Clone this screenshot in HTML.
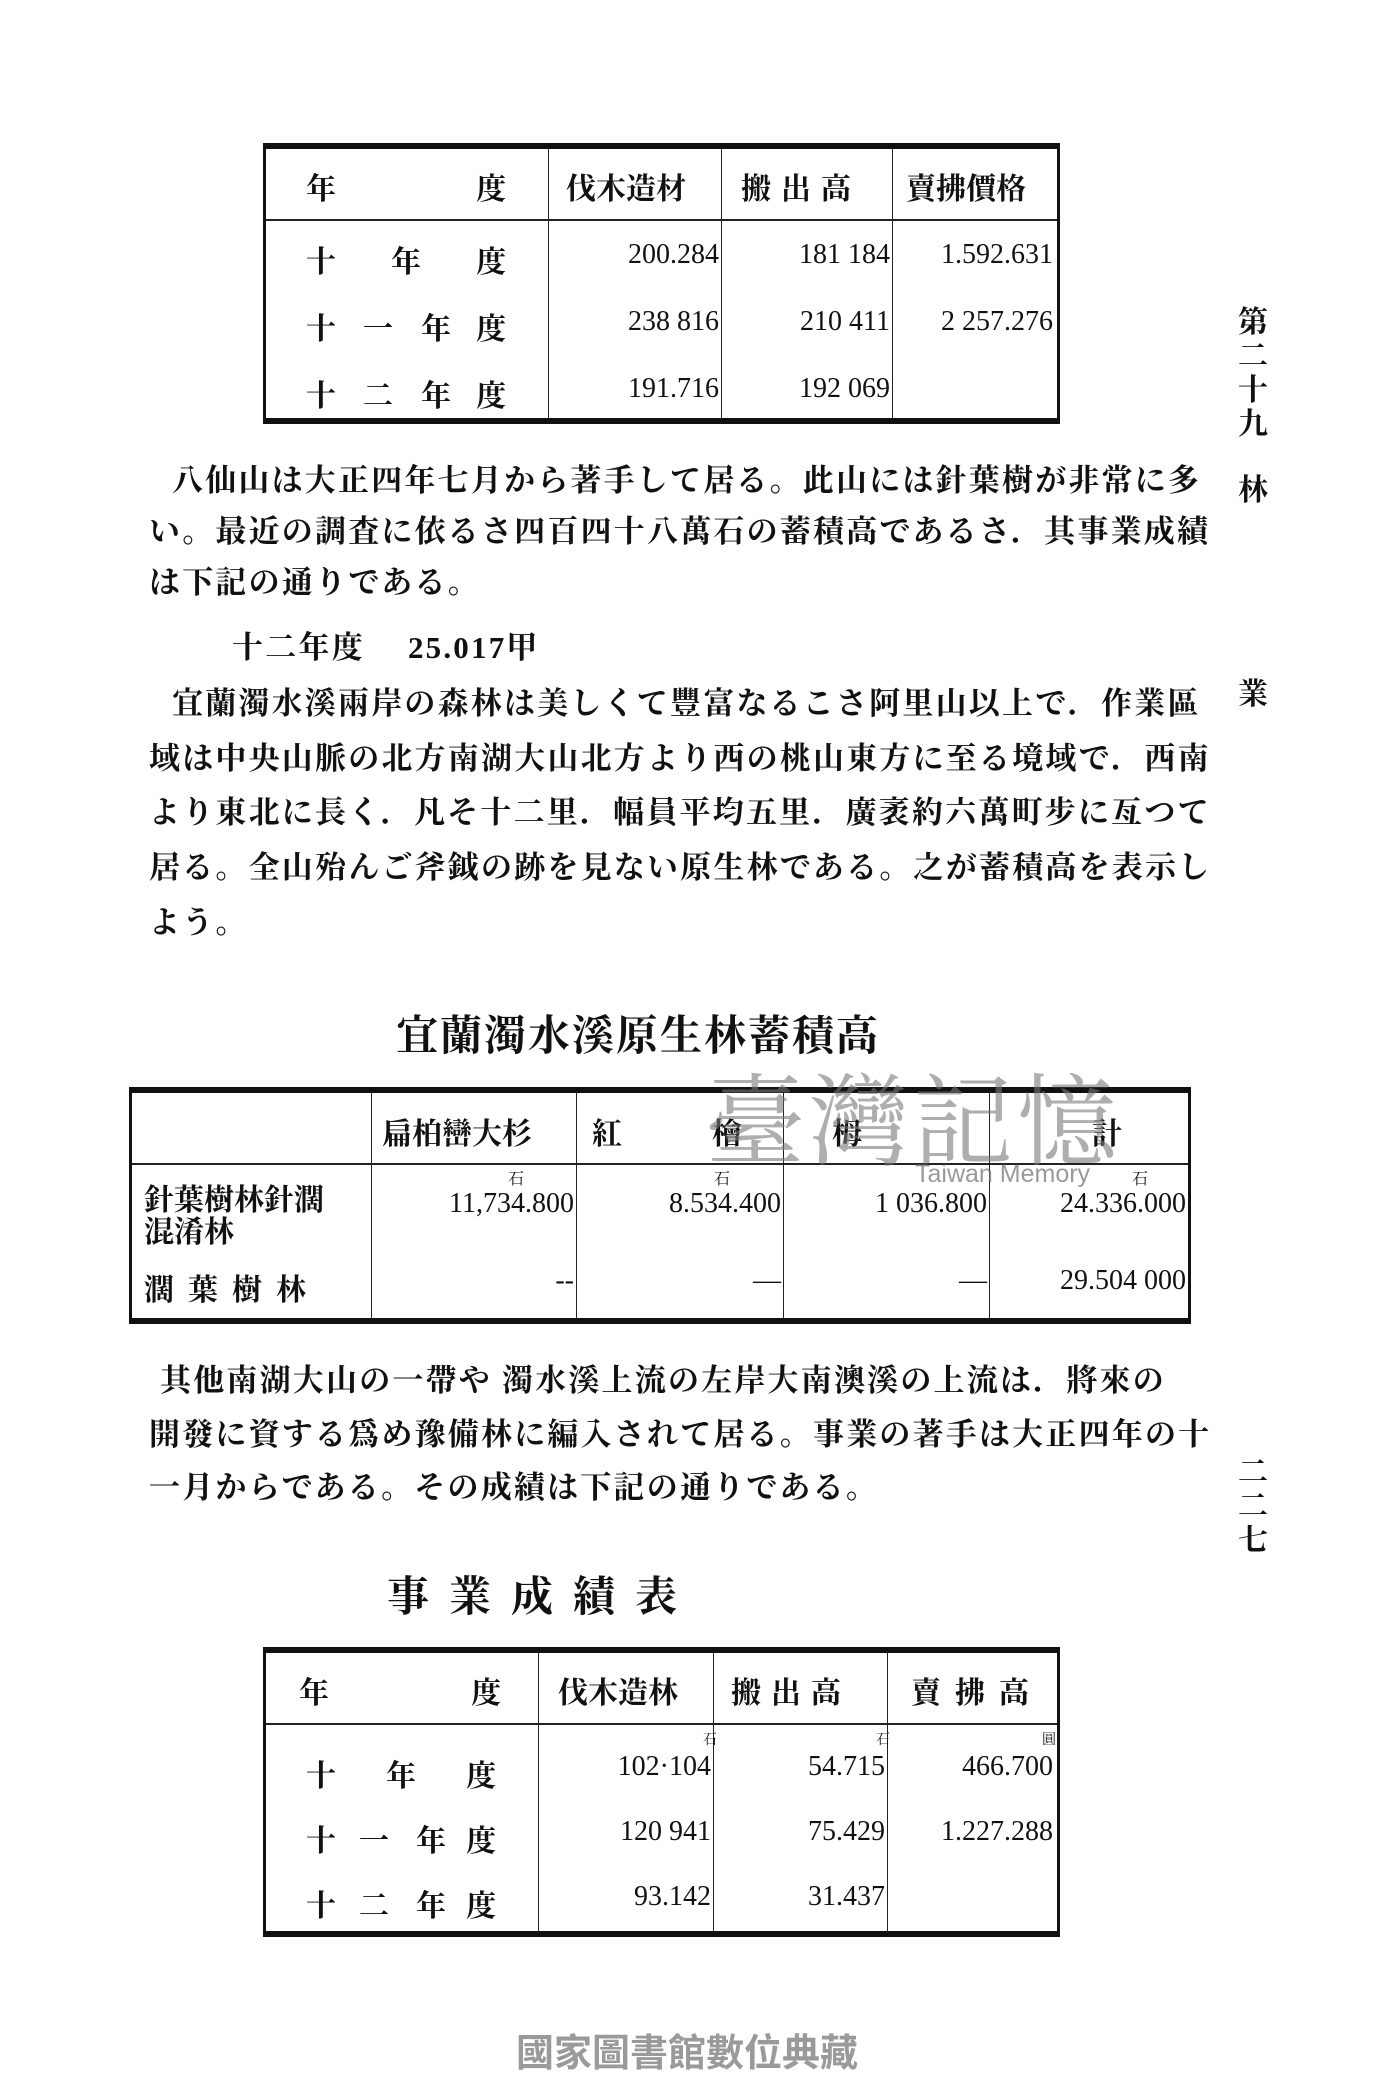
<!DOCTYPE html>
<html><head><meta charset="utf-8"><style>
body{margin:0;width:1400px;height:2100px;background:#fff;position:relative;overflow:hidden;font-family:"Liberation Serif","Noto Serif CJK JP","Noto Sans CJK JP",serif;color:#111}
.a{position:absolute;white-space:nowrap}
.p{font-size:31px;letter-spacing:2.2px;font-weight:bold}
.t{position:absolute;border:3px solid #111;border-top:6px solid #111;border-bottom:6px solid #111;box-sizing:border-box}
.v{position:absolute;top:0;bottom:0;border-left:1.5px solid #222}
.h{position:absolute;left:0;right:0;border-top:2px solid #222}
.c{position:absolute;font-size:30px;font-weight:bold}
.n{position:absolute;font-size:28px;font-family:"Liberation Serif",serif;text-align:right;white-space:nowrap}
.vt{position:absolute;font-size:30px;font-weight:bold;width:34px;text-align:center;line-height:34px}
</style></head><body>

<!-- Table 1 -->
<div class="t" style="left:263px;top:143px;width:797px;height:281px">
<div class="h" style="top:70px"></div>
<div class="v" style="left:282px"></div><div class="v" style="left:455px"></div><div class="v" style="left:626px"></div>
<div class="c" style="left:40px;top:15px">年</div><div class="c" style="left:210px;top:15px">度</div>
<div class="c" style="left:300px;top:15px">伐木造材</div>
<div class="c" style="left:475px;top:15px;letter-spacing:10px">搬出高</div>
<div class="c" style="left:640px;top:15px">賣拂價格</div>
<div class="c" style="left:40px;top:88px">十</div><div class="c" style="left:125px;top:88px">年</div><div class="c" style="left:210px;top:88px">度</div>
<div class="c" style="left:40px;top:155px">十</div><div class="c" style="left:97px;top:155px">一</div><div class="c" style="left:155px;top:155px">年</div><div class="c" style="left:210px;top:155px">度</div>
<div class="c" style="left:40px;top:222px">十</div><div class="c" style="left:97px;top:222px">二</div><div class="c" style="left:155px;top:222px">年</div><div class="c" style="left:210px;top:222px">度</div>
<div class="n" style="right:338px;top:90px">200.284</div><div class="n" style="right:167px;top:90px">181 184</div><div class="n" style="right:4px;top:90px">1.592.631</div>
<div class="n" style="right:338px;top:157px">238 816</div><div class="n" style="right:167px;top:157px">210 411</div><div class="n" style="right:4px;top:157px">2 257.276</div>
<div class="n" style="right:338px;top:224px">191.716</div><div class="n" style="right:167px;top:224px">192 069</div>
</div>

<!-- right margin -->
<div class="vt" style="left:1236px;top:306px">第<br>二<br>十<br>九</div>
<div class="vt" style="left:1236px;top:474px">林</div>
<div class="vt" style="left:1236px;top:678px">業</div>
<div class="vt" style="left:1236px;top:1456px">二<br>二<br>七</div>

<div class="a p" style="left:172px;top:455px">八仙山は大正四年七月から著手して居る。此山には針葉樹が非常に多</div>
<div class="a p" style="left:149px;top:506px">い。最近の調査に依るさ四百四十八萬石の蓄積高であるさ．其事業成績</div>
<div class="a p" style="left:149px;top:557px">は下記の通りである。</div>
<div class="a p" style="left:232px;top:622px">十二年度　 25.017甲</div>
<div class="a p" style="left:172px;top:678px">宜蘭濁水溪兩岸の森林は美しくて豐富なるこさ阿里山以上で．作業區</div>
<div class="a p" style="left:149px;top:733px">域は中央山脈の北方南湖大山北方より西の桃山東方に至る境域で．西南</div>
<div class="a p" style="left:149px;top:787px">より東北に長く．凡そ十二里．幅員平均五里．廣袤約六萬町步に亙つて</div>
<div class="a p" style="left:149px;top:842px">居る。全山殆んご斧鉞の跡を見ない原生林である。之が蓄積高を表示し</div>
<div class="a p" style="left:149px;top:897px">よう。</div>

<div class="a" style="left:396px;top:1003px;font-size:42px;font-weight:bold;letter-spacing:2px">宜蘭濁水溪原生林蓄積高</div>

<!-- Table 2 -->
<div class="t" style="left:129px;top:1087px;width:1062px;height:237px">
<div class="h" style="top:70px"></div>
<div class="v" style="left:239px"></div><div class="v" style="left:444px"></div><div class="v" style="left:651px"></div><div class="v" style="left:857px"></div>
<div class="c" style="left:250px;top:16px">扁柏巒大杉</div>
<div class="c" style="left:460px;top:16px">紅</div><div class="c" style="left:580px;top:16px">檜</div>
<div class="c" style="left:700px;top:16px">栂</div><div class="c" style="left:960px;top:16px">計</div>
<div class="c" style="left:12px;top:92px;line-height:32px">針葉樹林針濶<br>混淆林</div>
<div class="c" style="left:12px;top:172px;letter-spacing:14px">濶葉樹林</div>
<div class="a" style="left:376px;top:73px;font-size:16px">石</div><div class="a" style="left:582px;top:73px;font-size:16px">石</div><div class="a" style="left:1000px;top:73px;font-size:16px">石</div>
<div class="n" style="right:614px;top:95px">11,734.800</div><div class="n" style="right:407px;top:95px">8.534.400</div>
<div class="n" style="right:201px;top:95px">1 036.800</div><div class="n" style="right:2px;top:95px">24.336.000</div>
<div class="n" style="right:614px;top:172px">--</div><div class="n" style="right:407px;top:172px">—</div><div class="n" style="right:201px;top:172px">—</div>
<div class="n" style="right:2px;top:172px">29.504 000</div>
</div>

<!-- watermark -->
<div class="a" style="left:705px;top:1042px;font-size:100px;color:rgba(120,120,120,0.6);font-family:'Noto Serif CJK SC',serif;letter-spacing:4px">臺灣記憶</div>
<div class="a" style="left:915px;top:1160px;font-size:25px;color:rgba(110,110,110,0.7);font-family:'Liberation Sans',sans-serif">Taiwan Memory</div>

<div class="a p" style="left:160px;top:1355px">其他南湖大山の一帶や 濁水溪上流の左岸大南澳溪の上流は．將來の</div>
<div class="a p" style="left:149px;top:1409px">開發に資する爲め豫備林に編入されて居る。事業の著手は大正四年の十</div>
<div class="a p" style="left:149px;top:1462px">一月からである。その成績は下記の通りである。</div>

<div class="a" style="left:387px;top:1564px;font-size:42px;font-weight:bold;letter-spacing:20px">事業成績表</div>

<!-- Table 3 -->
<div class="t" style="left:263px;top:1647px;width:797px;height:290px">
<div class="h" style="top:70px"></div>
<div class="v" style="left:272px"></div><div class="v" style="left:447px"></div><div class="v" style="left:621px"></div>
<div class="c" style="left:33px;top:15px">年</div><div class="c" style="left:205px;top:15px">度</div>
<div class="c" style="left:292px;top:15px">伐木造林</div>
<div class="c" style="left:465px;top:15px;letter-spacing:10px">搬出高</div>
<div class="c" style="left:645px;top:15px;letter-spacing:14px">賣拂高</div>
<div class="c" style="left:40px;top:98px">十</div><div class="c" style="left:120px;top:98px">年</div><div class="c" style="left:200px;top:98px">度</div>
<div class="c" style="left:40px;top:163px">十</div><div class="c" style="left:93px;top:163px">一</div><div class="c" style="left:150px;top:163px">年</div><div class="c" style="left:200px;top:163px">度</div>
<div class="c" style="left:40px;top:228px">十</div><div class="c" style="left:93px;top:228px">二</div><div class="c" style="left:150px;top:228px">年</div><div class="c" style="left:200px;top:228px">度</div>
<div class="a" style="left:437px;top:76px;font-size:14px">石</div><div class="a" style="left:610px;top:76px;font-size:14px">石</div><div class="a" style="left:776px;top:76px;font-size:14px">圓</div>
<div class="n" style="right:346px;top:98px">102·104</div><div class="n" style="right:172px;top:98px">54.715</div><div class="n" style="right:4px;top:98px">466.700</div>
<div class="n" style="right:346px;top:163px">120 941</div><div class="n" style="right:172px;top:163px">75.429</div><div class="n" style="right:4px;top:163px">1.227.288</div>
<div class="n" style="right:346px;top:228px">93.142</div><div class="n" style="right:172px;top:228px">31.437</div>
</div>

<div class="a" style="left:516px;top:2022px;font-size:38px;color:#9a9a9a;font-family:'Noto Sans CJK TC',sans-serif;font-weight:bold">國家圖書館數位典藏</div>
</body></html>
